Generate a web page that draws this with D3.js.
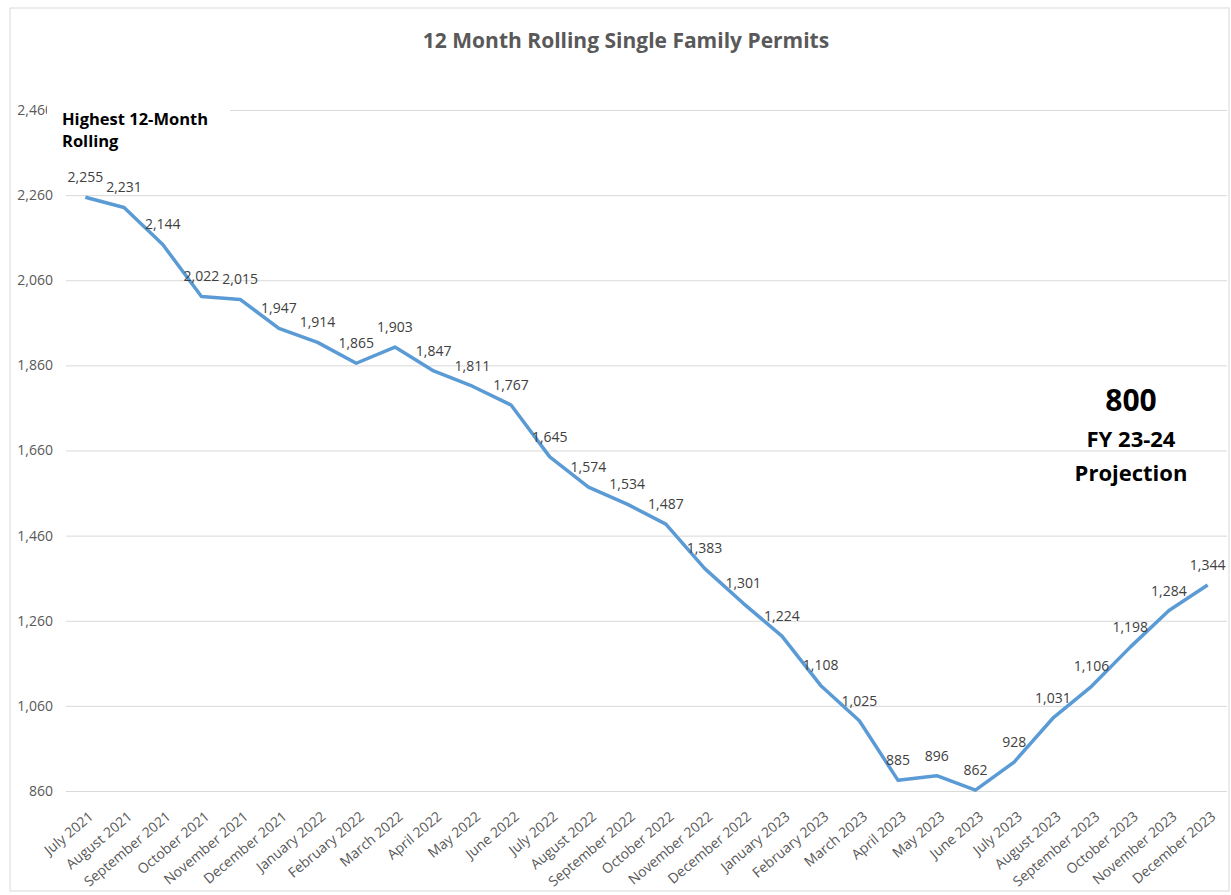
<!DOCTYPE html>
<html>
<head>
<meta charset="utf-8">
<script src="https://cdn.jsdelivr.net/npm/d3@7"></script>
<style>
  body { margin: 0; background: #fff; }
  svg text { font-family: "Open Sans", Lato, sans-serif; }
</style>
</head>
<body>
<svg id="chart" width="1231" height="895"></svg>
<script>
var months = ["July 2021", "August 2021", "September 2021", "October 2021", "November 2021", "December 2021",
    "January 2022", "February 2022", "March 2022", "April 2022", "May 2022", "June 2022",
    "July 2022", "August 2022", "September 2022", "October 2022", "November 2022", "December 2022",
    "January 2023", "February 2023", "March 2023", "April 2023", "May 2023", "June 2023",
    "July 2023", "August 2023", "September 2023", "October 2023", "November 2023", "December 2023"];
var permits = [2255, 2231, 2144, 2022, 2015, 1947, 1914, 1865, 1903, 1847, 1811, 1767,
    1645, 1574, 1534, 1487, 1383, 1301, 1224, 1108, 1025, 885, 896, 862,
    928, 1031, 1106, 1198, 1284, 1344];
var yTicks = [860, 1060, 1260, 1460, 1660, 1860, 2060, 2260, 2460];

var svg = d3.select("#chart"),
    plotLeft = 66, plotRight = 1227, plotTop = 110, plotBottom = 791;

// chart border
svg.append("rect")
    .attr("x", 10).attr("y", 8)
    .attr("width", 1219).attr("height", 883)
    .attr("fill", "none")
    .attr("stroke", "#d9d9d9");

var x = d3.scaleBand()
    .domain(months)
    .range([plotLeft, plotRight]);
var y = d3.scaleLinear()
    .domain([860, 2460])
    .range([plotBottom, plotTop]);

function cx(d) { return x(d) + x.bandwidth() / 2; }

// y axis + gridlines
var yAxis = svg.append("g")
    .attr("transform", "translate(" + plotLeft + ",0)")
    .call(d3.axisLeft(y)
        .tickValues(yTicks)
        .tickFormat(d3.format(","))
        .tickSize(-(plotRight - plotLeft))
        .tickPadding(13));
yAxis.select(".domain").remove();
yAxis.selectAll("line").attr("stroke", "#d9d9d9");
yAxis.selectAll("text")
    .attr("fill", "#595959")
    .style("font-size", "14px");

// x axis labels
var xAxis = svg.append("g")
    .attr("transform", "translate(0," + plotBottom + ")")
    .call(d3.axisBottom(x).tickSize(0).tickPadding(0));
xAxis.select(".domain").remove();
xAxis.selectAll("text")
    .attr("fill", "#595959")
    .style("font-size", "14px")
    .attr("text-anchor", "end")
    .attr("dy", 0)
    .attr("transform", "translate(9,27) rotate(-40)");

// line
var line = d3.line()
    .x(function (d, i) { return cx(months[i]); })
    .y(function (d) { return y(d); });

svg.append("path")
    .datum(permits)
    .attr("d", line)
    .attr("fill", "none")
    .attr("stroke", "#5b9bd5")
    .attr("stroke-width", 3.5)
    .attr("stroke-linejoin", "round");

// data labels
svg.append("g").selectAll("text")
    .data(permits)
    .enter().append("text")
    .attr("x", function (d, i) { return cx(months[i]); })
    .attr("y", function (d) { return y(d) - 15; })
    .attr("text-anchor", "middle")
    .attr("fill", "#404040")
    .style("font-size", "14px")
    .text(function (d) { return d3.format(",")(d); });

// title
svg.append("text")
    .attr("x", 626).attr("y", 48)
    .attr("text-anchor", "middle")
    .attr("fill", "#595959")
    .style("font-size", "21px")
    .style("font-weight", "bold")
    .text("12 Month Rolling Single Family Permits");

// highest annotation
svg.append("rect")
    .attr("x", 47).attr("y", 100)
    .attr("width", 183).attr("height", 55)
    .attr("fill", "#fff");
svg.append("text")
    .attr("x", 62).attr("y", 125)
    .attr("fill", "#000")
    .style("font-size", "16.5px")
    .style("font-weight", "bold")
    .text("Highest 12-Month");
svg.append("text")
    .attr("x", 62).attr("y", 147)
    .attr("fill", "#000")
    .style("font-size", "16.5px")
    .style("font-weight", "bold")
    .text("Rolling");

// projection annotation
svg.append("text")
    .attr("x", 1131).attr("y", 411)
    .attr("text-anchor", "middle")
    .attr("fill", "#000")
    .style("font-size", "30px")
    .style("font-weight", "bold")
    .text("800");
svg.append("text")
    .attr("x", 1131).attr("y", 447)
    .attr("text-anchor", "middle")
    .attr("fill", "#000")
    .style("font-size", "22px")
    .style("font-weight", "bold")
    .text("FY 23-24");
svg.append("text")
    .attr("x", 1131).attr("y", 481)
    .attr("text-anchor", "middle")
    .attr("fill", "#000")
    .style("font-size", "22px")
    .style("font-weight", "bold")
    .text("Projection");
</script>
</body>
</html>
